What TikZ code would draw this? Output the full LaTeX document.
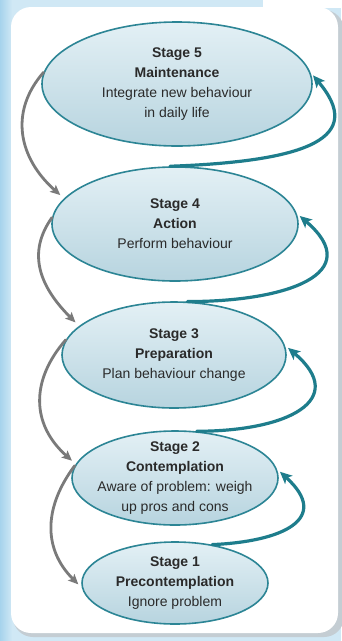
\documentclass[tikz,border=0pt]{standalone}
\usepackage{fontspec}
\setmainfont{Liberation Sans}
\usetikzlibrary{shapes.geometric, arrows.meta}
\definecolor{bgblue}{HTML}{D0E8F5}
\definecolor{leftblue}{HTML}{A6D3EC}
\definecolor{shadowgray}{HTML}{C4CDD3}
\definecolor{edgecol}{HTML}{2C8595}
\definecolor{fillTop}{HTML}{E3F0F5}
\definecolor{fillBot}{HTML}{B7D4DF}
\definecolor{teal1}{HTML}{1E7D8C}
\definecolor{grayar}{HTML}{7A7A7A}
\definecolor{txt}{HTML}{2A2A2A}
\tikzset{
  stagebox/.style={ellipse, draw=edgecol, line width=1.6pt, top color=fillTop, bottom color=fillBot,
    align=center, inner sep=-14pt, text=txt, font=\fontsize{14}{20}\selectfont},
  upar/.style={draw=teal1, line width=3.2pt, line cap=round, shorten >=4pt,
    -{Stealth[length=12pt, width=11pt, inset=3pt]}},
  downar/.style={draw=grayar, line width=2.8pt, line cap=round, shorten >=5pt,
    -{Stealth[length=10pt, width=9pt, inset=2pt]}}
}
\begin{document}
\begin{tikzpicture}[x=1pt, y=-1pt]
\useasboundingbox (0,0) rectangle (341,641);
% background
\fill[bgblue] (0,0) rectangle (341,641);
\fill[white] (263,0) rectangle (341,8);
\shade[left color=leftblue, right color=bgblue] (0,0) rectangle (12,641);
\fill[shadowgray, rounded corners=20pt] (13,10) rectangle (344,637);
\fill[white, rounded corners=20pt] (11,7) rectangle (338,633);
% stages
\node[stagebox, minimum width=270pt, minimum height=124pt] (s5) at (177,84)
  {\textbf{Stage 5}\\\textbf{Maintenance}\\Integrate new behaviour\\in daily life};
\node[stagebox, minimum width=246pt, minimum height=114pt] (s4) at (175,224)
  {\textbf{Stage 4}\\\textbf{Action}\\Perform behaviour};
\node[stagebox, minimum width=224pt, minimum height=106pt] (s3) at (174,355)
  {\textbf{Stage 3}\\\textbf{Preparation}\\Plan behaviour change};
\node[stagebox, minimum width=206pt, minimum height=94pt] (s2) at (175,478)
  {\textbf{Stage 2}\\\textbf{Contemplation}\\Aware of problem: weigh\\up pros and cons};
\node[stagebox, minimum width=186pt, minimum height=82pt] (s1) at (175,583)
  {\textbf{Stage 1}\\\textbf{Precontemplation}\\Ignore problem};
% upward (teal) arrows
\draw[upar] (s4.95) .. controls +(140,-5) and +(55,65) .. (s5.5);
\draw[upar] (s3.76) .. controls +(100,0) and +(70,60) .. (s4.5);
\draw[upar] (s2.65) .. controls +(90,0) and +(65,55) .. (s3.5);
\draw[upar] (s1.46) .. controls +(70,-3) and +(55,50) .. (s2.5);
% downward (gray) arrows
\draw[downar] (s5.175) .. controls +(-35,40) and +(-45,-40) .. (s4.167);
\draw[downar] (s4.177) .. controls +(-25,35) and +(-40,-40) .. (s3.163);
\draw[downar] (s3.172) .. controls +(-35,40) and +(-45,-40) .. (s2.172);
\draw[downar] (s2.173) .. controls +(-30,40) and +(-40,-40) .. (s1.183);
\end{tikzpicture}
\end{document}
